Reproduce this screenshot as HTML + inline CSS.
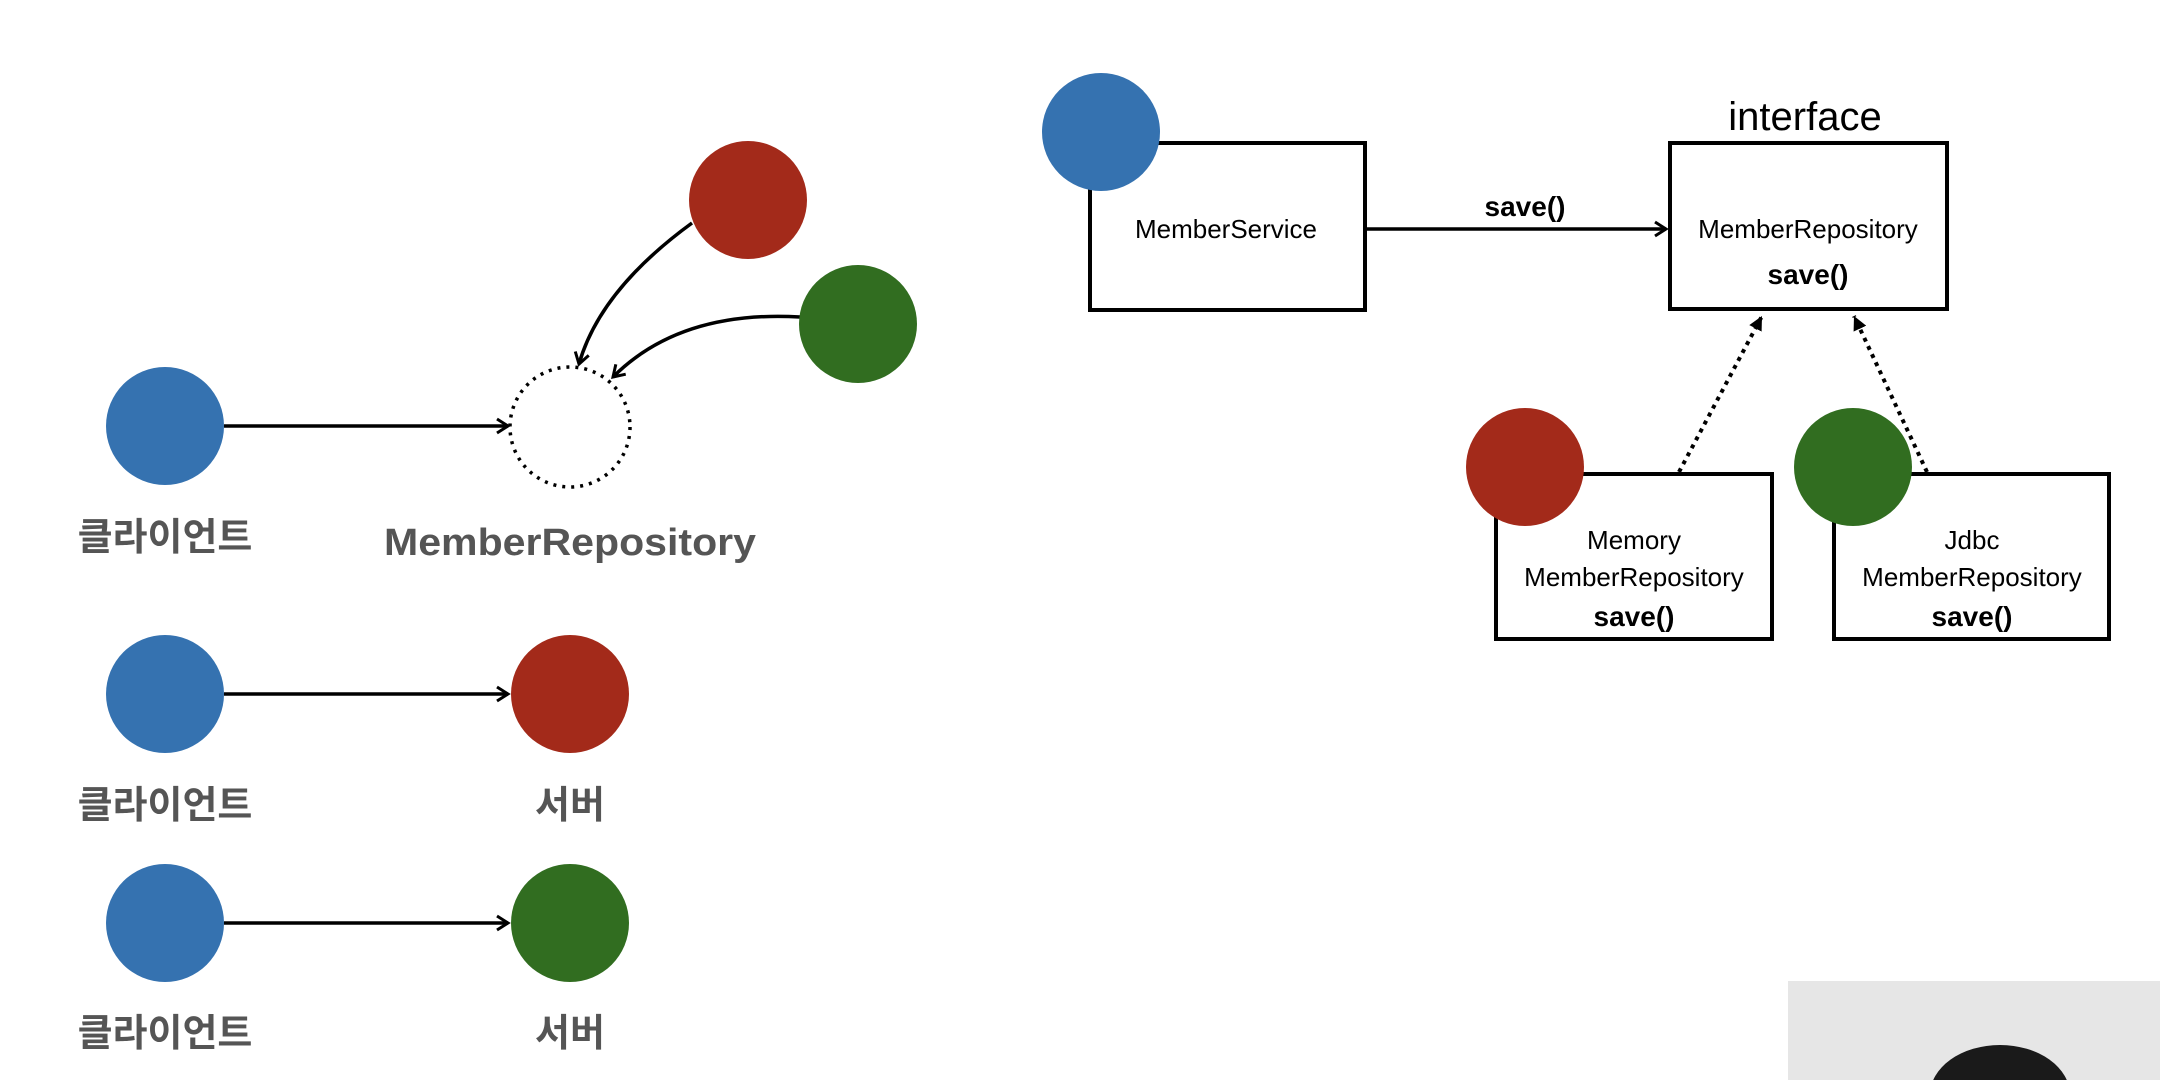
<!DOCTYPE html>
<html><head><meta charset="utf-8"><style>
html,body{margin:0;padding:0;background:#fff;width:2160px;height:1080px;overflow:hidden;}
svg{display:block;}
</style></head><body>
<svg width="2160" height="1080" viewBox="0 0 2160 1080" xmlns="http://www.w3.org/2000/svg">
<defs>
<marker id="a" markerWidth="16" markerHeight="18" refX="13" refY="9" orient="auto" markerUnits="userSpaceOnUse">
<path d="M2,2 L13,9 L2,16" fill="none" stroke="#000" stroke-width="3"/>
</marker>
<marker id="t" markerWidth="16" markerHeight="16" refX="14" refY="8" orient="auto" markerUnits="userSpaceOnUse">
<path d="M0,1 L14,8 L0,15 Z" fill="#000"/>
</marker>
<clipPath id="cam"><rect x="1788" y="981" width="372" height="99"/></clipPath>
</defs>
<g font-family="Liberation Sans, Noto Sans CJK KR, sans-serif">
<line x1="224" y1="426" x2="508" y2="426" stroke="#000" stroke-width="3.5" marker-end="url(#a)"/>
<circle cx="165" cy="426" r="59" fill="#3572b0"/>
<circle cx="570" cy="427" r="60" fill="none" stroke="#000" stroke-width="3.5" stroke-dasharray="3,6"/>
<path d="M692,223 Q600,290 579,364" fill="none" stroke="#000" stroke-width="3.5" marker-end="url(#a)"/>
<path d="M800,317 Q680,310 613,377" fill="none" stroke="#000" stroke-width="3.5" marker-end="url(#a)"/>
<circle cx="748" cy="200" r="59" fill="#a32a1a"/>
<circle cx="858" cy="324" r="59" fill="#316d20"/>
<text x="165" y="550" font-size="38" font-weight="bold" fill="#555" text-anchor="middle">클라이언트</text>
<text x="570" y="555" font-size="38" font-weight="bold" fill="#555" text-anchor="middle" textLength="372" lengthAdjust="spacingAndGlyphs">MemberRepository</text>
<line x1="224" y1="694" x2="508" y2="694" stroke="#000" stroke-width="3.5" marker-end="url(#a)"/>
<circle cx="165" cy="694" r="59" fill="#3572b0"/>
<circle cx="570" cy="694" r="59" fill="#a32a1a"/>
<text x="165" y="818" font-size="38" font-weight="bold" fill="#555" text-anchor="middle">클라이언트</text>
<text x="570" y="818" font-size="38" font-weight="bold" fill="#555" text-anchor="middle">서버</text>
<line x1="224" y1="923" x2="508" y2="923" stroke="#000" stroke-width="3.5" marker-end="url(#a)"/>
<circle cx="165" cy="923" r="59" fill="#3572b0"/>
<circle cx="570" cy="923" r="59" fill="#316d20"/>
<text x="165" y="1046" font-size="38" font-weight="bold" fill="#555" text-anchor="middle">클라이언트</text>
<text x="570" y="1046" font-size="38" font-weight="bold" fill="#555" text-anchor="middle">서버</text>
<rect x="1090" y="143" width="275" height="167" fill="#fff" stroke="#000" stroke-width="4"/>
<circle cx="1101" cy="132" r="59" fill="#3572b0"/>
<text x="1226" y="238" font-size="26" text-anchor="middle">MemberService</text>
<line x1="1365" y1="229" x2="1666" y2="229" stroke="#000" stroke-width="3.5" marker-end="url(#a)"/>
<text x="1525" y="216" font-size="28" font-weight="bold" text-anchor="middle">save()</text>
<rect x="1670" y="143" width="277" height="166" fill="#fff" stroke="#000" stroke-width="4"/>
<text x="1805" y="130" font-size="40" text-anchor="middle">interface</text>
<text x="1808" y="238" font-size="26" text-anchor="middle">MemberRepository</text>
<text x="1808" y="284" font-size="28" font-weight="bold" text-anchor="middle">save()</text>
<line x1="1679" y1="472" x2="1762" y2="316" stroke="#000" stroke-width="4" stroke-dasharray="4,5" marker-end="url(#t)"/>
<line x1="1927" y1="472" x2="1854" y2="316" stroke="#000" stroke-width="4" stroke-dasharray="4,5" marker-end="url(#t)"/>
<rect x="1496" y="474" width="276" height="165" fill="#fff" stroke="#000" stroke-width="4"/>
<circle cx="1525" cy="467" r="59" fill="#a32a1a"/>
<text x="1634" y="549" font-size="26" text-anchor="middle">Memory</text>
<text x="1634" y="586" font-size="26" text-anchor="middle">MemberRepository</text>
<text x="1634" y="626" font-size="28" font-weight="bold" text-anchor="middle">save()</text>
<rect x="1834" y="474" width="275" height="165" fill="#fff" stroke="#000" stroke-width="4"/>
<circle cx="1853" cy="467" r="59" fill="#316d20"/>
<text x="1972" y="549" font-size="26" text-anchor="middle">Jdbc</text>
<text x="1972" y="586" font-size="26" text-anchor="middle">MemberRepository</text>
<text x="1972" y="626" font-size="28" font-weight="bold" text-anchor="middle">save()</text>
<g clip-path="url(#cam)">
<rect x="1788" y="981" width="372" height="99" fill="#e6e6e6"/>
<ellipse cx="2000" cy="1095" rx="70" ry="50" fill="#1a1a1a"/>
</g>
</g>
</svg>
</body></html>
